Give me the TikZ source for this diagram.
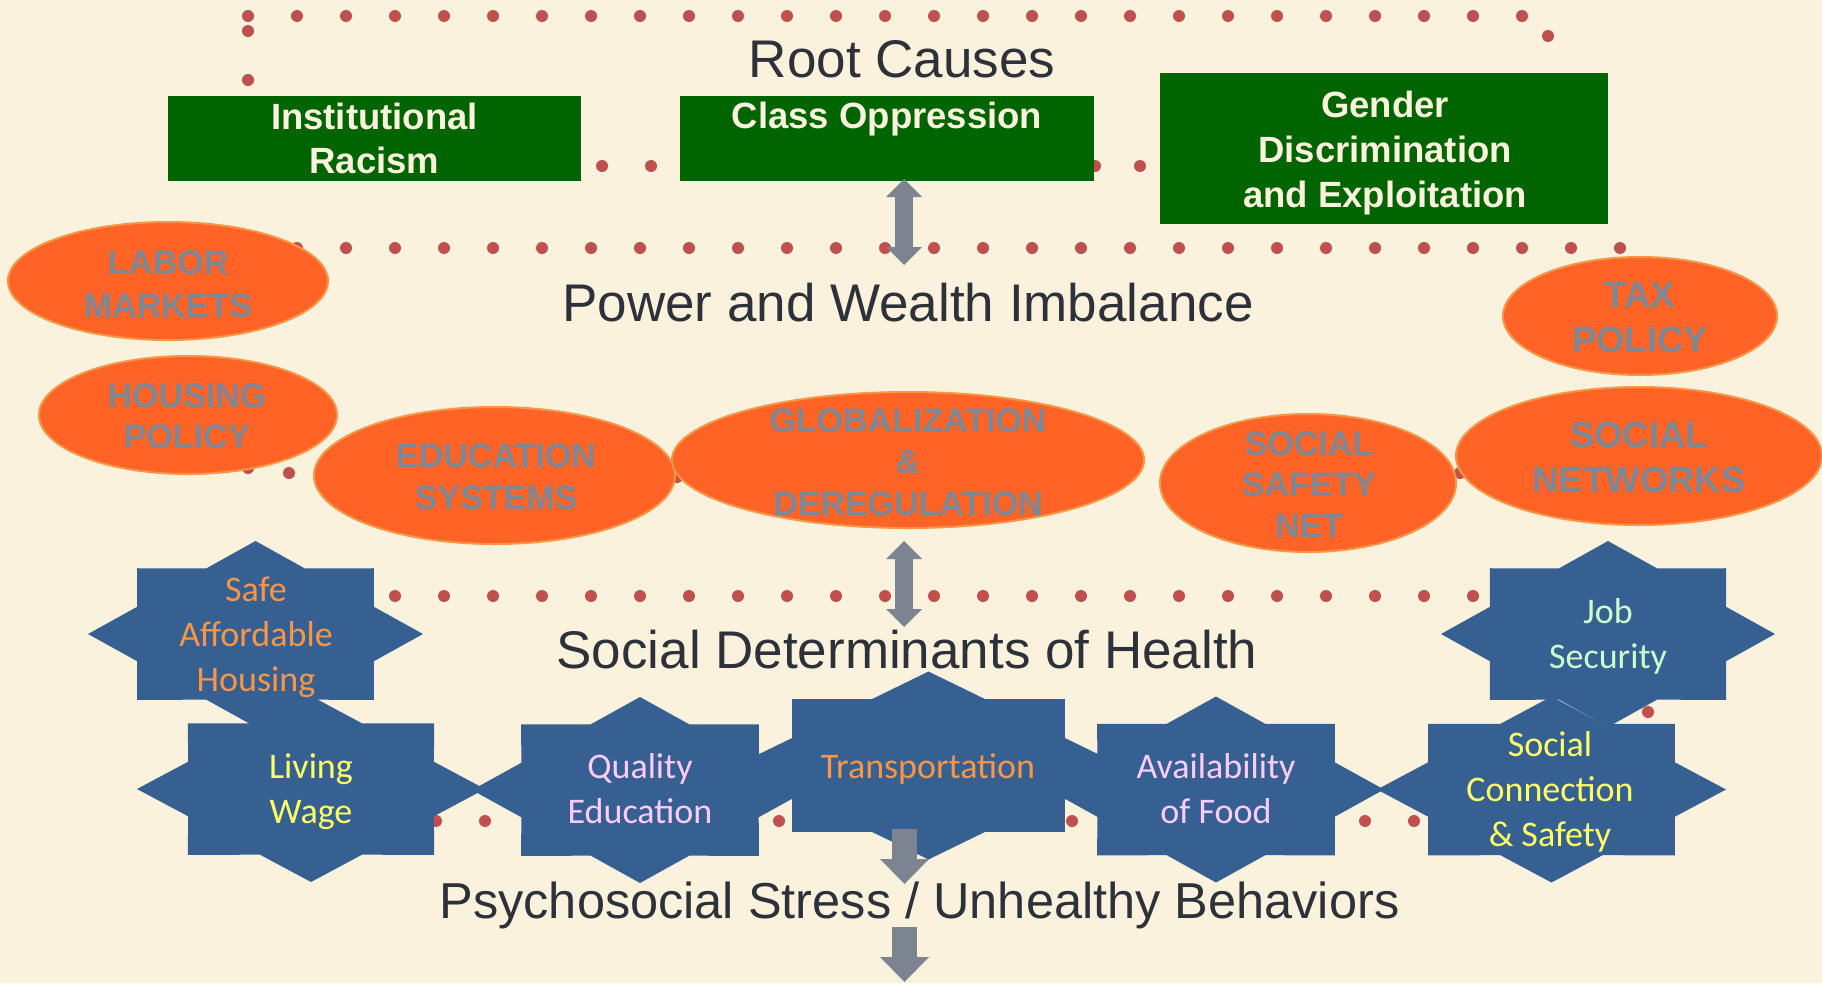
\documentclass[tikz,border=0pt]{standalone}
\usepackage{fontspec}
\setmainfont{Liberation Sans}
\newfontfamily\calfont{Carlito}
\usetikzlibrary{arrows.meta,shapes.geometric}

\definecolor{bg}{RGB}{251,242,221}
\definecolor{titlegray}{RGB}{45,49,57}
\definecolor{boxgreen}{RGB}{0,100,0}
\definecolor{ovalfill}{RGB}{255,99,38}
\definecolor{ovalline}{RGB}{249,150,70}
\definecolor{ovaltext}{RGB}{127,135,148}
\definecolor{arrowgray}{RGB}{124,132,145}
\definecolor{starblue}{RGB}{55,96,146}
\definecolor{dotred}{RGB}{192,80,77}
\definecolor{txorange}{RGB}{247,150,70}
\definecolor{txyellow}{RGB}{255,255,102}
\definecolor{txpink}{RGB}{255,204,255}
\definecolor{txmint}{RGB}{204,255,204}

\tikzset{
  layertitle/.style={anchor=base, inner sep=0pt, text=titlegray, font=\fontsize{#1}{60}\selectfont},
  gbox/.style={rectangle, fill=boxgreen, inner sep=0pt, outer sep=0pt},
  gtext/.style={inner sep=0pt, align=center, text=bg, font=\fontsize{36.5}{#1}\bfseries\selectfont},
  oval/.style={ellipse, fill=ovalfill, draw=ovalline, line width=2pt, inner sep=0pt},
  otext/.style={inner sep=0pt, align=center, text=ovaltext, font=\fontsize{34}{#1}\bfseries\selectfont},
  otextbig/.style={inner sep=0pt, align=center, text=ovaltext, font=\fontsize{36.5}{#1}\bfseries\selectfont},
  stext/.style={inner sep=0pt, align=center, font=\calfont\fontsize{36}{45}\selectfont},
  reddot/.style={fill=dotred},
  dblarrow/.style={draw=arrowgray, line width=18pt,
     {Triangle[width=36pt,length=18pt,line width=0pt]}-{Triangle[width=36pt,length=18pt,line width=0pt]}},
  downarrow/.style={draw=arrowgray, line width=25pt,
     -{Triangle[width=49pt,length=25pt,line width=0pt]}},
  octostar/.pic={\fill[starblue] (0:1) -- (22.5:0.765) -- (45:1) -- (67.5:0.765) -- (90:1)
     -- (112.5:0.765) -- (135:1) -- (157.5:0.765) -- (180:1) -- (202.5:0.765) -- (225:1)
     -- (247.5:0.765) -- (270:1) -- (292.5:0.765) -- (315:1) -- (337.5:0.765) -- cycle;}
}

\begin{document}
\begin{tikzpicture}[x=1pt,y=-1pt]
\useasboundingbox (0,0) rectangle (1822,983);
\fill[bg] (0,0) rectangle (1822,983);

% ---------- dotted frames ----------
% frame 1 (root causes)
\foreach \k in {0,...,26} \fill[reddot] ({248+49*\k},16) circle[radius=6];
\foreach \yy in {31,80} \fill[reddot] (248,\yy) circle[radius=6];
\fill[reddot] (1548,36) circle[radius=6];
\foreach \xx in {602,651,1095,1140} \fill[reddot] (\xx,166) circle[radius=6];
% frame 2 (power and wealth)
\foreach \k in {1,...,28} \fill[reddot] ({248+49*\k},248) circle[radius=6];
\fill[reddot] (248,468) circle[radius=6];
\fill[reddot] (289,473) circle[radius=6];
\fill[reddot] (677,477) circle[radius=6];
\fill[reddot] (1460,473) circle[radius=6];
% frame 3 (social determinants)
\foreach \k in {3,...,25} \fill[reddot] ({248+49*\k},596) circle[radius=6];
\fill[reddot] (1648,712) circle[radius=6];
\foreach \xx in {436,485,779,1072,1365,1414} \fill[reddot] (\xx,821) circle[radius=6];

% ---------- root causes boxes ----------
\node[gbox, minimum width=413pt, minimum height=85pt] (racism) at (374.5,138.5) {};
\node[gbox, minimum width=414pt, minimum height=85pt] (class) at (887,138.5) {};
\node[gbox, minimum width=448pt, minimum height=151pt] (gender) at (1384,148.5) {};

% ---------- ovals ----------
\node[oval, minimum width=320pt, minimum height=118pt] (labor) at (168,281) {};
\node[oval, minimum width=298pt, minimum height=118pt] (housing) at (188,415) {};
\node[oval, minimum width=361pt, minimum height=137pt] (educ) at (494.5,475.5) {};
\node[oval, minimum width=472pt, minimum height=136pt] (glob) at (908,460) {};
\node[oval, minimum width=296pt, minimum height=138pt] (safety) at (1308,483) {};
\node[oval, minimum width=366pt, minimum height=138pt] (networks) at (1639,456) {};
\node[oval, minimum width=274pt, minimum height=118pt] (tax) at (1640,316) {};

% ---------- stars ----------
\pic[xscale=167.5, yscale=93] at (255.5,634) {octostar};
\pic[xscale=174, yscale=93] at (311,789) {octostar};
\pic[xscale=168, yscale=93] at (640,790) {octostar};
\pic[xscale=193, yscale=94] at (928.5,765.5) {octostar};
\pic[xscale=168, yscale=93] at (1216,789.5) {octostar};
\pic[xscale=174.5, yscale=93] at (1551.5,789.5) {octostar};
\pic[xscale=167, yscale=93] at (1608,634) {octostar};

% ---------- arrows ----------
\coordinate (a1s) at (904,179);
\coordinate (a1e) at (904,265);
\coordinate (a2s) at (904,541);
\coordinate (a2e) at (904,627);
\coordinate (a3s) at (904.5,829);
\coordinate (a3e) at (904.5,884);
\coordinate (a4s) at (904.5,927);
\coordinate (a4e) at (904.5,982);
\draw[dblarrow] (a1s) -- (a1e);
\draw[dblarrow] (a2s) -- (a2e);
\draw[downarrow] (a3s) -- (a3e);
\draw[downarrow] (a4s) -- (a4e);

% ---------- layer titles ----------
\node[layertitle=53] (root) at (902,77) {Root Causes};
\node[layertitle=53] (power) at (908,321) {Power and Wealth Imbalance};
\node[layertitle=53] (sdh) at (907,668) {Social Determinants of Health};
\node[layertitle=50.5] (stress) at (919.5,918) {Psychosocial Stress / Unhealthy Behaviors};

% ---------- box texts ----------
\node[gtext=44] (racismT) at (374.5,142.2) {\strut Institutional\\\strut Racism};
\node[gtext=44, anchor=base] (classT) at (887,128) {Class Oppression};
\node[gtext=45] (genderT) at (1385,153) {\strut Gender\\\strut Discrimination\\\strut and Exploitation};

% ---------- oval texts ----------
\node[otext=43] (laborT) at (168,287) {\strut LABOR\\\strut MARKETS};
\node[otext=41] (housingT) at (187,419.3) {\strut HOUSING\\\strut POLICY};
\node[otext=42] (educT) at (496,479.6) {\strut EDUCATION\\\strut SYSTEMS};
\node[otext=41.5] (globT) at (908,465.2) {\strut GLOBALIZATION\\\strut \&\\\strut DEREGULATION};
\node[otext=41] (safetyT) at (1309,487.8) {\strut SOCIAL\\\strut SAFETY\\\strut NET};
\node[otextbig=45] (taxT) at (1640,320.5) {\strut TAX\\\strut POLICY};
\node[otextbig=45] (networksT) at (1639,460.5) {\strut SOCIAL\\\strut NETWORKS};

% ---------- star texts ----------
\node[stext, text=txorange] (housingS) at (256,637) {\strut Safe\\\strut Affordable\\\strut Housing};
\node[stext, text=txyellow] (wageS) at (311,791.5) {\strut Living\\\strut Wage};
\node[stext, text=txpink] (eduS) at (640,791.5) {\strut Quality\\\strut Education};
\node[stext, text=txorange, anchor=base] (transS) at (928,778) {Transportation};
\node[stext, text=txpink] (foodS) at (1216,791.5) {\strut Availability\\\strut of Food};
\node[stext, text=txyellow] (socialS) at (1550,792.5) {\strut Social\\\strut Connection\\\strut \& Safety};
\node[stext, text=txmint] (jobS) at (1608,636.5) {\strut Job\\\strut Security};
\end{tikzpicture}
\end{document}
